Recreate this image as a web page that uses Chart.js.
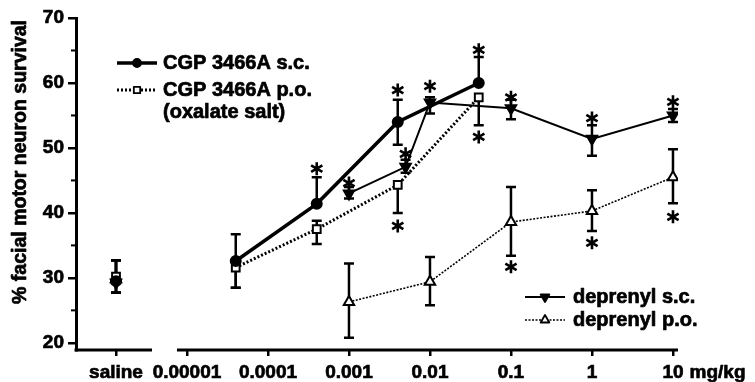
<!DOCTYPE html>
<html>
<head>
<meta charset="utf-8">
<script src="https://cdn.jsdelivr.net/npm/chart.js@4"></script>
<style>
  html, body { margin: 0; padding: 0; background: #fff; }
  #wrap { width: 755px; height: 382px; }
</style>
</head>
<body>
<div id="wrap"><canvas id="grafico"></canvas></div>
<script>
// plotting position of the saline group on the dose axis
const SALINE = 1.33e-6;

const tickDoses = [SALINE, 0.00001, 0.0001, 0.001, 0.01, 0.1, 1, 10];
const tickLabels = ['saline', '0.00001', '0.0001', '0.001', '0.01', '0.1', '1', '10'];
const yTicks = [20, 30, 40, 50, 60, 70];

// CGP 3466A s.c.
const cgpScDoses = [SALINE, 0.00004, 0.0004, 0.004, 0.04];
const cgpScMean = [29.5, 32.6, 41.4, 54.0, 60.0];
const cgpScLow = [27.7, 28.5, 41.4, 50.5, 60.0];
const cgpScHigh = [32.7, 36.7, 45.5, 57.4, 64.0];

// CGP 3466A p.o. (oxalate salt)
const cgpPoDoses = [SALINE, 0.00004, 0.0004, 0.004, 0.04];
const cgpPoMean = [30.2, 31.6, 37.5, 44.3, 57.8];
const cgpPoLow = [27.7, 28.5, 35.2, 40.0, 53.5];
const cgpPoHigh = [32.7, 31.6, 38.8, 44.3, 57.8];

// deprenyl s.c.
const depScDoses = [SALINE, 0.001, 0.005, 0.01, 0.1, 1, 10];
const depScMean = [29.3, 43.0, 47.1, 57.0, 56.1, 51.4, 55.0];
const depScLow = [27.7, 42.2, 46.2, 55.3, 54.4, 48.8, 54.0];
const depScHigh = [32.7, 44.0, 48.2, 57.8, 57.4, 53.5, 56.0];

// deprenyl p.o.
const depPoDoses = [SALINE, 0.001, 0.01, 0.1, 1, 10];
const depPoMean = [29.8, 26.3, 29.4, 38.6, 40.3, 45.5];
const depPoLow = [27.7, 20.8, 25.8, 33.4, 37.2, 41.5];
const depPoHigh = [32.7, 32.2, 33.2, 44.0, 43.5, 49.8];

// significance asterisks
const starDoses = [0.0004, 0.001, 0.004, 0.005, 0.01, 0.04, 0.004, 0.04, 0.1, 1, 10, 0.1, 1, 10];
const starValues = [46.8, 44.6, 58.9, 49.1, 59.5, 65.1, 38.0, 51.7, 57.8, 54.6, 57.1, 31.7, 35.4, 39.4];

const FONT = '"Liberation Sans", Arial, sans-serif';
const TITULO_Y = '% facial motor neuron survival';

function pontos(doses, valores) {
    return doses.map((d, i) => ({ x: d, y: valores[i] }));
}

// no line between the saline group and the first dose
const semSalina = ctx => ctx.p0DataIndex === 0 ? 'rgba(0,0,0,0)' : undefined;

const series = [
    { label: 'CGP 3466A s.c.', doses: cgpScDoses, mean: cgpScMean, low: cgpScLow, high: cgpScHigh,
      style: 'circle', radius: 5, rot: 0, fill: '#000', width: 3.5, dash: [] },
    { label: 'CGP 3466A p.o.', doses: cgpPoDoses, mean: cgpPoMean, low: cgpPoLow, high: cgpPoHigh,
      style: 'rect', radius: 5.5, rot: 0, fill: '#fff', width: 3, dash: [2, 2] },
    { label: 'deprenyl s.c.', doses: depScDoses, mean: depScMean, low: depScLow, high: depScHigh,
      style: 'triangle', radius: 6, rot: 180, fill: '#000', width: 2, dash: [] },
    { label: 'deprenyl p.o.', doses: depPoDoses, mean: depPoMean, low: depPoLow, high: depPoHigh,
      style: 'triangle', radius: 6, rot: 0, fill: '#fff', width: 1.6, dash: [2, 1.5] }
];

const errorBars = {
    id: 'errorBars',
    beforeDatasetsDraw(chart) {
        const { ctx, scales: { x, y } } = chart;
        ctx.save();
        ctx.strokeStyle = '#000';
        ctx.lineWidth = 2.5;
        series.forEach(s => {
            s.doses.forEach((d, i) => {
                const px = x.getPixelForValue(d);
                const pl = y.getPixelForValue(s.low[i]);
                const ph = y.getPixelForValue(s.high[i]);
                ctx.beginPath();
                ctx.moveTo(px, pl); ctx.lineTo(px, ph);
                if (s.low[i] < s.mean[i]) { ctx.moveTo(px - 5, pl); ctx.lineTo(px + 5, pl); }
                if (s.high[i] > s.mean[i]) { ctx.moveTo(px - 5, ph); ctx.lineTo(px + 5, ph); }
                ctx.stroke();
            });
        });
        ctx.restore();
    }
};

function asterisco(ctx, cx, cy) {
    const r = 6.5;
    ctx.beginPath();
    ctx.moveTo(cx, cy - r); ctx.lineTo(cx, cy + r);
    for (const a of [Math.PI / 6, -Math.PI / 6]) {
        ctx.moveTo(cx - r * Math.cos(a), cy - r * Math.sin(a));
        ctx.lineTo(cx + r * Math.cos(a), cy + r * Math.sin(a));
    }
    ctx.stroke();
}

// heavy text, like the scanned figure
function texto(ctx, t, x, y) {
    ctx.fillText(t, x, y);
    ctx.strokeText(t, x, y);
}

function amostraLegenda(ctx, s, x, y) {
    ctx.save();
    ctx.strokeStyle = '#000';
    ctx.lineWidth = s.width;
    ctx.setLineDash(s.dash);
    ctx.beginPath();
    ctx.moveTo(x, y); ctx.lineTo(x + 40, y);
    ctx.stroke();
    ctx.setLineDash([]);
    ctx.fillStyle = s.fill;
    ctx.lineWidth = 1.8;
    Chart.helpers.drawPoint(ctx, { pointStyle: s.style, radius: s.radius - 1, rotation: s.rot, borderWidth: 1.8 }, x + 20, y);
    ctx.restore();
}

const extras = {
    id: 'extras',
    afterDraw(chart) {
        const { ctx, chartArea, scales: { x, y } } = chart;
        ctx.save();
        ctx.strokeStyle = '#000';
        ctx.fillStyle = '#000';
        ctx.lineWidth = 3;

        // broken x axis
        const bottom = chartArea.bottom;
        const salPx = x.getPixelForValue(SALINE);
        const startPx = x.getPixelForValue(tickDoses[1]);
        ctx.beginPath();
        ctx.moveTo(chartArea.left - 1.5, bottom); ctx.lineTo(salPx + 36, bottom);
        ctx.moveTo(startPx - 10, bottom); ctx.lineTo(chartArea.right, bottom);
        ctx.stroke();

        // minor y ticks
        ctx.lineWidth = 2;
        [25, 35, 45, 55, 65].forEach(v => {
            const py = y.getPixelForValue(v);
            ctx.beginPath();
            ctx.moveTo(chartArea.left - 5, py); ctx.lineTo(chartArea.left, py);
            ctx.stroke();
        });

        ctx.lineWidth = 0.7;
        ctx.lineJoin = 'round';

        // unit after the last tick label
        ctx.font = 'bold 19px ' + FONT;
        ctx.textBaseline = 'middle';
        ctx.textAlign = 'left';
        const p10 = x.getPixelForValue(10);
        texto(ctx, 'mg/kg', p10 + ctx.measureText('10').width / 2 + 6, bottom + 6 + 5 + 11.4);

        // y axis title
        ctx.save();
        ctx.font = 'bold 19.5px ' + FONT;
        ctx.translate(21, chartArea.top + 2);
        ctx.rotate(-Math.PI / 2);
        ctx.textAlign = 'right';
        texto(ctx, TITULO_Y, 0, 0);
        ctx.restore();

        // legends
        ctx.font = 'bold 20px ' + FONT;
        amostraLegenda(ctx, series[0], 117, 63);
        texto(ctx, series[0].label, 163, 63);
        amostraLegenda(ctx, series[1], 117, 90);
        texto(ctx, series[1].label, 163, 90);
        texto(ctx, '(oxalate salt)', 163, 112);
        amostraLegenda(ctx, series[2], 525, 297);
        texto(ctx, series[2].label, 573, 297);
        amostraLegenda(ctx, series[3], 525, 320);
        texto(ctx, series[3].label, 573, 320);

        // asterisks
        ctx.lineWidth = 2.6;
        ctx.lineJoin = 'miter';
        starDoses.forEach((d, i) => asterisco(ctx, x.getPixelForValue(d), y.getPixelForValue(starValues[i])));
        ctx.restore();
    }
};

const ctxGrafico = document.getElementById('grafico').getContext('2d');
new Chart(ctxGrafico, {
    type: 'scatter',
    data: {
        datasets: series.map(s => ({
            label: s.label,
            data: pontos(s.doses, s.mean),
            showLine: true,
            borderColor: '#000',
            borderWidth: s.width,
            borderDash: s.dash,
            segment: { borderColor: semSalina },
            pointStyle: s.style,
            pointRadius: s.radius,
            pointRotation: s.rot,
            pointBackgroundColor: s.fill,
            pointBorderColor: '#000',
            pointBorderWidth: 2
        }))
    },
    options: {
        responsive: true,
        maintainAspectRatio: false,
        animation: false,
        layout: { padding: { top: 18, right: 77, left: 0, bottom: 0 } },
        plugins: { legend: { display: false }, tooltip: { enabled: false } },
        scales: {
            x: {
                type: 'logarithmic',
                min: Math.pow(10, -6.37),
                max: Math.pow(10, 1.062),
                afterBuildTicks: scale => { scale.ticks = tickDoses.map(v => ({ value: v })); },
                afterFit: scale => { scale.height = 32; },
                ticks: {
                    autoSkip: false,
                    maxRotation: 0,
                    padding: 5,
                    color: '#000',
                    textStrokeColor: '#000',
                    textStrokeWidth: 0.7,
                    font: { family: FONT, size: 19, weight: 'bold' },
                    callback: (v, i) => tickLabels[i]
                },
                grid: { drawOnChartArea: false, tickLength: 6, color: '#000', lineWidth: 2.5 },
                border: { display: false }
            },
            y: {
                min: 18.9,
                max: 70,
                afterBuildTicks: scale => { scale.ticks = yTicks.map(v => ({ value: v })); },
                afterFit: scale => { scale.width = 76; },
                ticks: {
                    padding: 4,
                    color: '#000',
                    textStrokeColor: '#000',
                    textStrokeWidth: 0.7,
                    font: { family: FONT, size: 19, weight: 'bold' }
                },
                grid: { drawOnChartArea: false, tickLength: 8, color: '#000', lineWidth: 2.5 },
                border: { display: true, color: '#000', width: 3 }
            }
        }
    },
    plugins: [errorBars, extras]
});
</script>
</body>
</html>
